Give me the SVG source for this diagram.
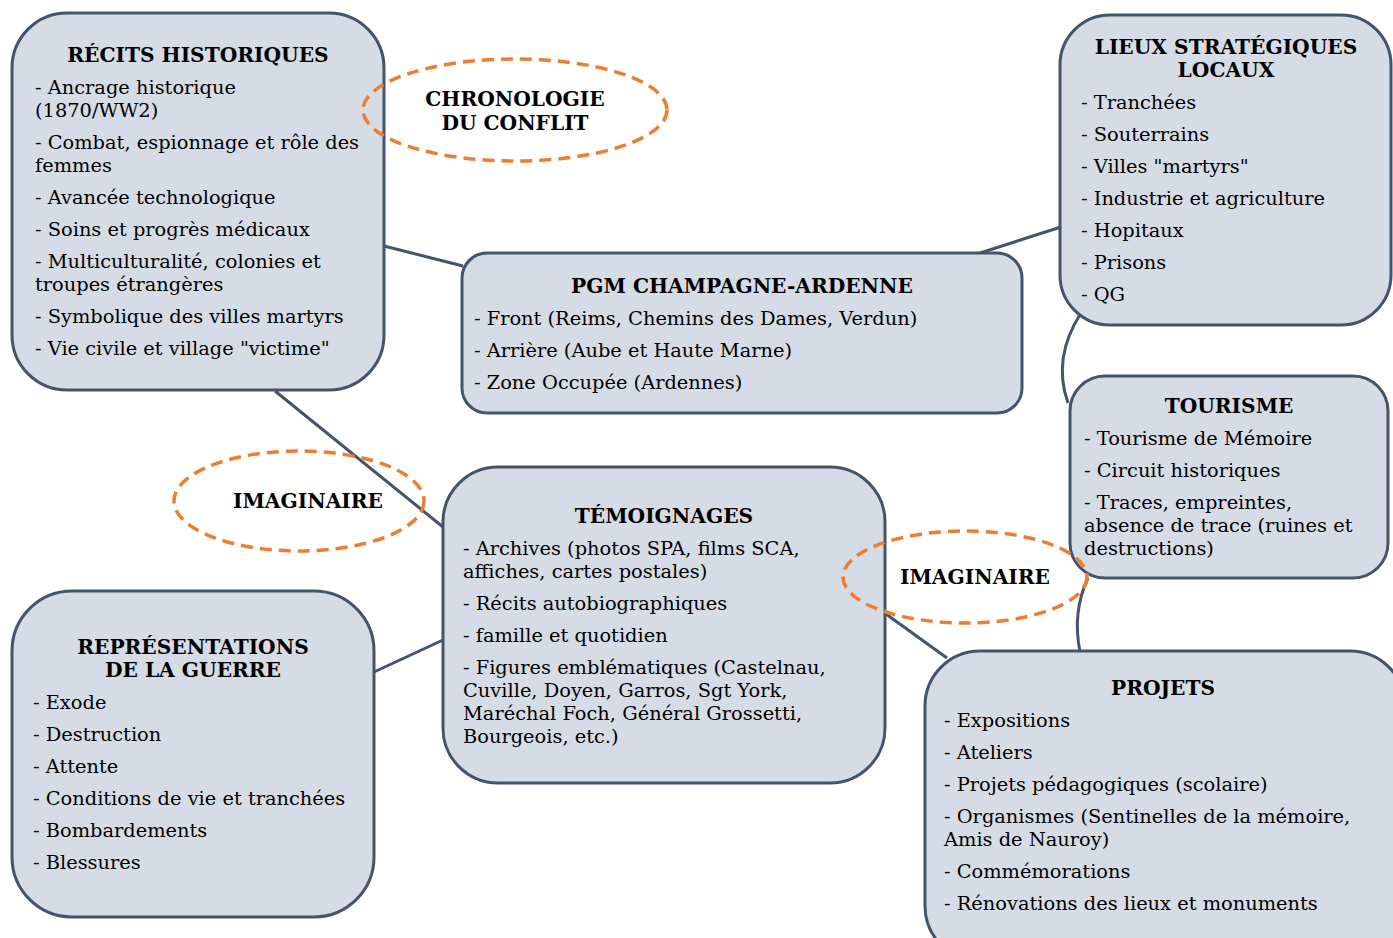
<svg xmlns="http://www.w3.org/2000/svg" width="1393" height="938" viewBox="0 0 1393 938">
<style>
.box{fill:#D6DCE5;stroke:#44546A;stroke-width:3}
.conn{fill:none;stroke:#44546A;stroke-width:3}
.oval{fill:none;stroke:#ED7D31;stroke-width:3.5;stroke-dasharray:12 7}
text{font-family:"DejaVu Serif","Liberation Serif",serif;font-size:19.4px;fill:#000}
.t{font-weight:bold;text-anchor:middle;font-size:20.2px}
</style>
<rect width="1393" height="938" fill="#fff"/>
<g id="connectors">
<line class="conn" x1="384" y1="246" x2="463" y2="266"/>
<line class="conn" x1="980" y1="253" x2="1061" y2="227"/>
<line class="conn" x1="275" y1="391" x2="443" y2="527"/>
<line class="conn" x1="374" y1="672" x2="443" y2="640"/>
<line class="conn" x1="886" y1="614" x2="947" y2="658"/>
<path class="conn" d="M1081,313 Q1052,358 1068,403"/>
<path class="conn" d="M1088,578 Q1072,612 1080,652"/>
</g>
<g id="recits">
<rect class="box" x="12" y="13" width="372" height="377" rx="55"/>
<text class="t" x="198" y="62">RÉCITS HISTORIQUES</text>
<text x="35" y="94">- Ancrage historique</text>
<text x="35" y="117">(1870/WW2)</text>
<text x="35" y="149">- Combat, espionnage et rôle des</text>
<text x="35" y="172">femmes</text>
<text x="35" y="204">- Avancée technologique</text>
<text x="35" y="236">- Soins et progrès médicaux</text>
<text x="35" y="268">- Multiculturalité, colonies et</text>
<text x="35" y="291">troupes étrangères</text>
<text x="35" y="323">- Symbolique des villes martyrs</text>
<text x="35" y="355">- Vie civile et village "victime"</text>
</g>
<g id="pgm">
<rect class="box" x="462" y="253" width="560" height="160" rx="25"/>
<text class="t" x="742" y="293">PGM CHAMPAGNE-ARDENNE</text>
<text x="474" y="325">- Front (Reims, Chemins des Dames, Verdun)</text>
<text x="474" y="357">- Arrière (Aube et Haute Marne)</text>
<text x="474" y="389">- Zone Occupée (Ardennes)</text>
</g>
<g id="lieux">
<rect class="box" x="1060" y="15" width="331" height="310" rx="50"/>
<text class="t" x="1226" y="54">LIEUX STRATÉGIQUES</text>
<text class="t" x="1226" y="77">LOCAUX</text>
<text x="1081" y="109">- Tranchées</text>
<text x="1081" y="141">- Souterrains</text>
<text x="1081" y="173">- Villes "martyrs"</text>
<text x="1081" y="205">- Industrie et agriculture</text>
<text x="1081" y="237">- Hopitaux</text>
<text x="1081" y="269">- Prisons</text>
<text x="1081" y="301">- QG</text>
</g>
<g id="tourisme">
<rect class="box" x="1070" y="376" width="318" height="202" rx="35"/>
<text class="t" x="1229" y="413">TOURISME</text>
<text x="1084" y="445">- Tourisme de Mémoire</text>
<text x="1084" y="477">- Circuit historiques</text>
<text x="1084" y="509">- Traces, empreintes,</text>
<text x="1084" y="532">absence de trace (ruines et</text>
<text x="1084" y="555">destructions)</text>
</g>
<g id="temoignages">
<rect class="box" x="443" y="467" width="442" height="316" rx="55"/>
<text class="t" x="664" y="523">TÉMOIGNAGES</text>
<text x="463" y="555">- Archives (photos SPA, films SCA,</text>
<text x="463" y="578">affiches, cartes postales)</text>
<text x="463" y="610">- Récits autobiographiques</text>
<text x="463" y="642">- famille et quotidien</text>
<text x="463" y="674">- Figures emblématiques (Castelnau,</text>
<text x="463" y="697">Cuville, Doyen, Garros, Sgt York,</text>
<text x="463" y="720">Maréchal Foch, Général Grossetti,</text>
<text x="463" y="743">Bourgeois, etc.)</text>
</g>
<g id="representations">
<rect class="box" x="12" y="591" width="362" height="326" rx="60"/>
<text class="t" x="193" y="654">REPRÉSENTATIONS</text>
<text class="t" x="193" y="677">DE LA GUERRE</text>
<text x="33" y="709">- Exode</text>
<text x="33" y="741">- Destruction</text>
<text x="33" y="773">- Attente</text>
<text x="33" y="805">- Conditions de vie et tranchées</text>
<text x="33" y="837">- Bombardements</text>
<text x="33" y="869">- Blessures</text>
</g>
<g id="projets">
<rect class="box" x="925" y="651" width="480" height="310" rx="55"/>
<text class="t" x="1163" y="695">PROJETS</text>
<text x="944" y="727">- Expositions</text>
<text x="944" y="759">- Ateliers</text>
<text x="944" y="791">- Projets pédagogiques (scolaire)</text>
<text x="944" y="823">- Organismes (Sentinelles de la mémoire,</text>
<text x="944" y="846">Amis de Nauroy)</text>
<text x="944" y="878">- Commémorations</text>
<text x="944" y="910">- Rénovations des lieux et monuments</text>
</g>
<g id="chronologie">
<ellipse class="oval" cx="515" cy="110" rx="152" ry="51"/>
<text class="t" x="515" y="106">CHRONOLOGIE</text>
<text class="t" x="515" y="130">DU CONFLIT</text>
</g>
<g id="imaginaire1">
<ellipse class="oval" cx="299" cy="501" rx="125" ry="50"/>
<text class="t" x="308" y="508">IMAGINAIRE</text>
</g>
<g id="imaginaire2">
<ellipse class="oval" cx="965" cy="577" rx="122" ry="46"/>
<text class="t" x="975" y="584">IMAGINAIRE</text>
</g>
</svg>
